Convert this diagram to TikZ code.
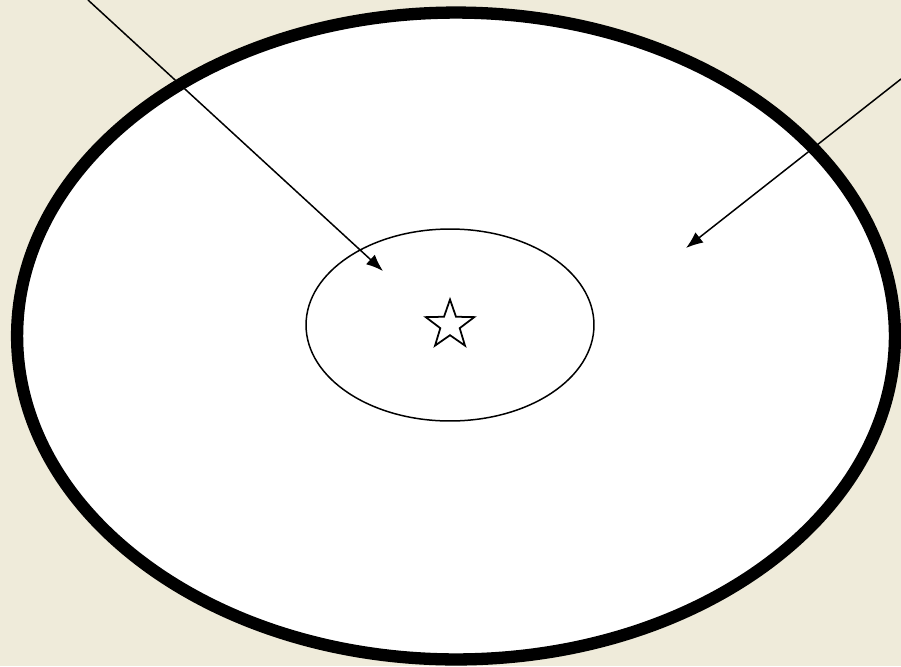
\documentclass[tikz,border=0pt]{standalone}
\usetikzlibrary{shapes.geometric,arrows.meta}
\tikzset{>=latex}
\definecolor{bgcol}{RGB}{239,235,218}
\tikzstyle{disc}=[ellipse,draw,fill=white,inner sep=0pt,outer sep=0pt]
\tikzstyle{pointer}=[-{Latex[length=0.34cm,width=0.26cm]},line width=0.85pt]

\begin{document}
\begin{tikzpicture}[x=0.02cm,y=-0.02cm]
  \def\W{901}
  \def\H{666}
  
  % BACKGROUND
  \fill[bgcol] (0,0) rectangle (\W,\H);
  \useasboundingbox (0,0) rectangle (\W,\H);
  
  % DISCS
  \node[disc,line width=7pt,minimum width=17.56cm,minimum height=12.94cm] (outer) at (456,336) {};
  \node[disc,line width=0.85pt,minimum width=5.76cm,minimum height=3.84cm] (inner) at (450,325) {};
  \node[star,star points=5,star point ratio=2.5,draw,line width=1pt,minimum size=1.02cm,inner sep=0pt] (centre) at (inner.center) {};
  
  % ARROWS
  \coordinate (lstart) at (88,0);
  \coordinate (ltip) at (383,271);
  \coordinate (rstart) at (\W,79);
  \coordinate (rtip) at (686,248);
  \draw[pointer] (lstart) -- (ltip);
  \draw[pointer] (rstart) -- (rtip);
  
\end{tikzpicture}
\end{document}
